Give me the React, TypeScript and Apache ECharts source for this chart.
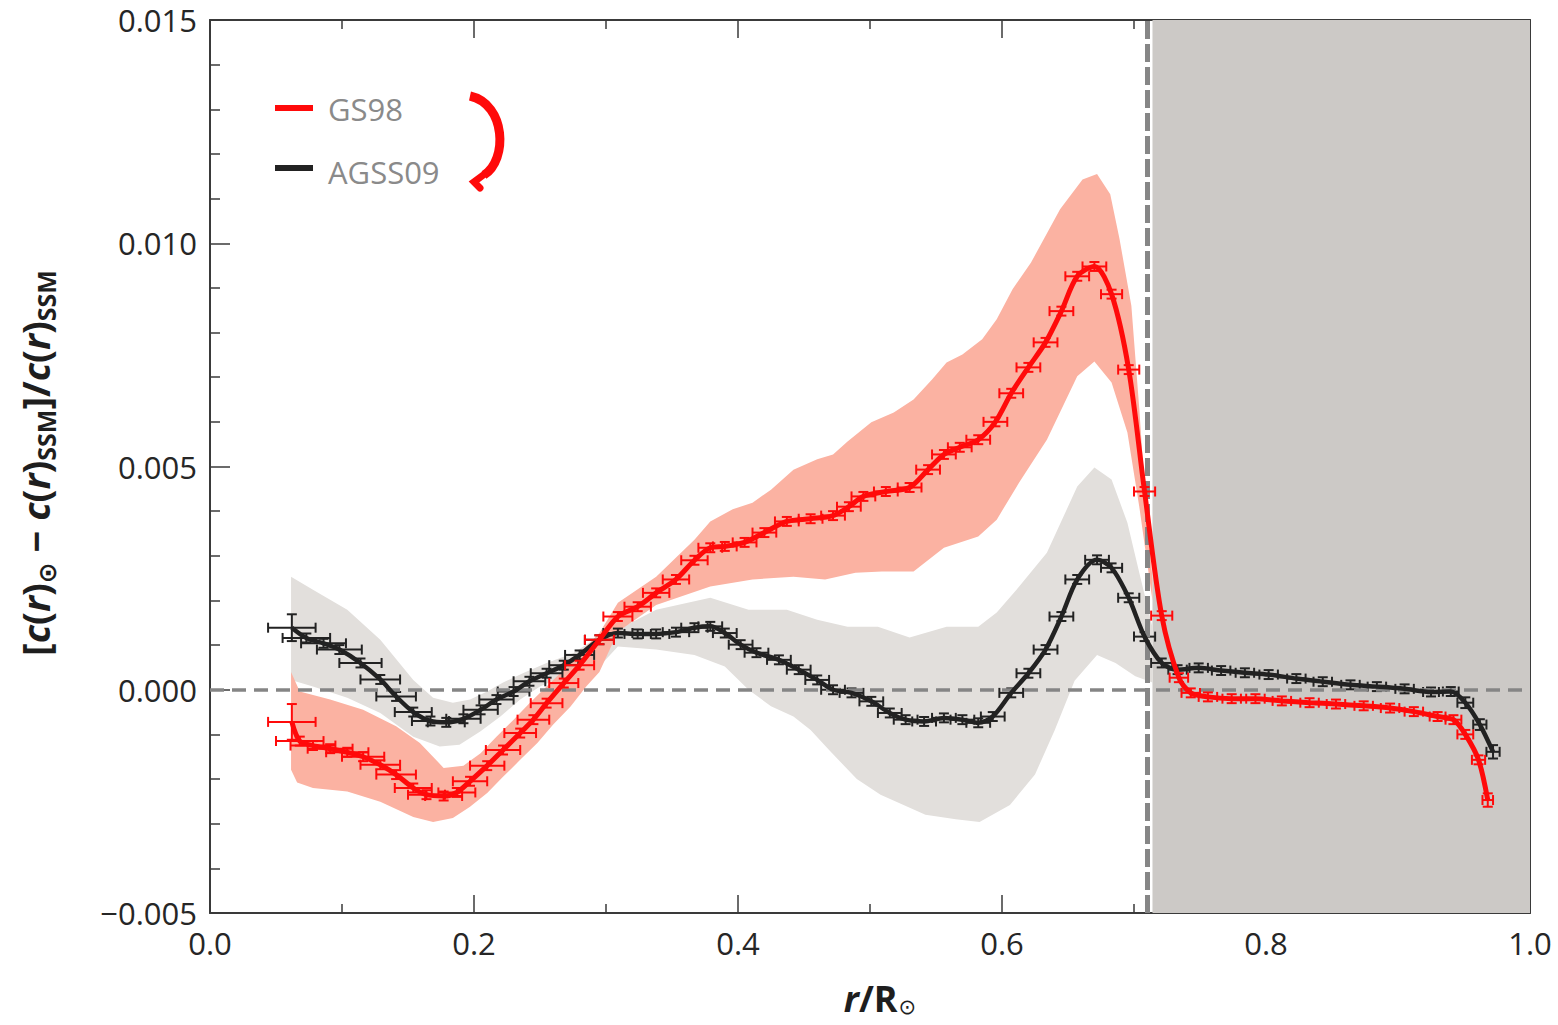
import React, { useEffect, useRef } from "react";
import * as echarts from "echarts";

// ---------- data ----------
const xTickValues = [0, 0.2, 0.4, 0.6, 0.8, 1.0];
const yTickValues = [-0.005, 0, 0.005, 0.01, 0.015];
const convectionBase = 0.714;
const seriesNames = ["GS98", "AGSS09"];

// [r, value, xErr, yErr]
const gs98Points: number[][] = [
  [0.062, -0.00072, 0.018, 0.0004], [0.068, -0.00115, 0.018, 0.0001], [0.078, -0.00125, 0.017, 0.0001],
  [0.091, -0.00132, 0.017, 0.0001], [0.104, -0.0014, 0.016, 0.0001], [0.116, -0.0015, 0.016, 0.0001],
  [0.129, -0.00168, 0.015, 0.0001], [0.141, -0.0019, 0.015, 0.0001], [0.154, -0.0022, 0.014, 0.0001],
  [0.164, -0.00235, 0.014, 0.0001], [0.177, -0.00238, 0.014, 0.0001], [0.187, -0.0023, 0.014, 0.0001],
  [0.197, -0.00205, 0.013, 0.0001], [0.21, -0.0017, 0.013, 0.0001], [0.222, -0.00135, 0.013, 0.0001],
  [0.235, -0.00097, 0.012, 0.0001], [0.245, -0.00067, 0.012, 0.0001], [0.255, -0.0003, 0.012, 0.0001],
  [0.268, 0.00015, 0.011, 0.0001], [0.28, 0.00055, 0.011, 0.0001], [0.295, 0.00112, 0.011, 0.0001],
  [0.309, 0.00164, 0.011, 0.0001], [0.324, 0.00186, 0.01, 0.0001], [0.338, 0.00217, 0.01, 0.0001],
  [0.353, 0.00247, 0.01, 0.0001], [0.367, 0.0029, 0.01, 0.0001], [0.379, 0.00318, 0.009, 0.0001],
  [0.39, 0.00321, 0.009, 0.0001], [0.405, 0.0033, 0.009, 0.0001], [0.42, 0.00352, 0.009, 0.0001],
  [0.437, 0.00377, 0.009, 0.0001], [0.455, 0.00383, 0.009, 0.0001], [0.472, 0.0039, 0.009, 0.0001],
  [0.484, 0.0041, 0.009, 0.0001], [0.495, 0.00433, 0.009, 0.0001], [0.512, 0.00444, 0.009, 0.0001],
  [0.53, 0.00453, 0.009, 0.0001], [0.544, 0.00493, 0.009, 0.0001], [0.556, 0.00527, 0.009, 0.0001],
  [0.568, 0.00543, 0.009, 0.0001], [0.582, 0.0056, 0.009, 0.0001], [0.595, 0.006, 0.009, 0.0001],
  [0.607, 0.00664, 0.009, 0.0001], [0.62, 0.00722, 0.009, 0.0001], [0.633, 0.00778, 0.009, 0.0001],
  [0.645, 0.00848, 0.009, 0.0001], [0.657, 0.00926, 0.009, 0.0001], [0.67, 0.00948, 0.009, 0.0001],
  [0.683, 0.00886, 0.008, 0.0001], [0.696, 0.00717, 0.008, 0.0001], [0.708, 0.00444, 0.008, 0.0001],
  [0.721, 0.00166, 0.008, 0.0001], [0.734, 0.00027, 0.007, 0.0001], [0.743, -0.00007, 0.007, 0.0001],
  [0.756, -0.00016, 0.007, 0.0001], [0.774, -0.0002, 0.007, 0.0001], [0.792, -0.0002, 0.007, 0.0001],
  [0.812, -0.00025, 0.007, 0.0001], [0.833, -0.00029, 0.007, 0.0001], [0.853, -0.00032, 0.007, 0.0001],
  [0.874, -0.00036, 0.007, 0.0001], [0.894, -0.00041, 0.007, 0.0001], [0.912, -0.00049, 0.007, 0.0001],
  [0.93, -0.0006, 0.006, 0.0001], [0.942, -0.00067, 0.006, 0.0001], [0.951, -0.001, 0.006, 0.0001],
  [0.961, -0.00157, 0.005, 0.0001], [0.968, -0.00247, 0.004, 0.00015],
];

const agss09Points: number[][] = [
  [0.062, 0.00139, 0.018, 0.0003], [0.073, 0.00116, 0.018, 0.0001], [0.086, 0.00104, 0.017, 0.0001],
  [0.098, 0.0009, 0.017, 0.0001], [0.114, 0.0006, 0.016, 0.0001], [0.129, 0.00023, 0.015, 0.0001],
  [0.141, -0.00015, 0.015, 0.0001], [0.154, -0.0005, 0.014, 0.0001], [0.167, -0.0007, 0.014, 0.0001],
  [0.179, -0.00073, 0.014, 0.0001], [0.192, -0.00065, 0.013, 0.0001], [0.205, -0.00045, 0.013, 0.0001],
  [0.217, -0.00022, 0.013, 0.0001], [0.23, -0.00004, 0.012, 0.0001], [0.242, 0.00019, 0.012, 0.0001],
  [0.255, 0.00037, 0.012, 0.0001], [0.268, 0.00055, 0.011, 0.0001], [0.28, 0.00078, 0.011, 0.0001],
  [0.295, 0.00112, 0.011, 0.0001], [0.309, 0.00127, 0.011, 0.0001], [0.324, 0.00125, 0.01, 0.0001],
  [0.338, 0.00125, 0.01, 0.0001], [0.353, 0.00129, 0.01, 0.0001], [0.367, 0.00139, 0.01, 0.0001],
  [0.379, 0.00142, 0.009, 0.0001], [0.39, 0.00127, 0.009, 0.0001], [0.402, 0.00101, 0.009, 0.0001],
  [0.414, 0.00083, 0.009, 0.0001], [0.431, 0.00067, 0.009, 0.0001], [0.446, 0.00045, 0.009, 0.0001],
  [0.46, 0.00022, 0.009, 0.0001], [0.472, 0.0, 0.009, 0.0001], [0.486, -0.00007, 0.009, 0.0001],
  [0.501, -0.00026, 0.009, 0.0001], [0.515, -0.00052, 0.009, 0.0001], [0.527, -0.00067, 0.009, 0.0001],
  [0.541, -0.00071, 0.009, 0.0001], [0.556, -0.00063, 0.009, 0.0001], [0.57, -0.00067, 0.009, 0.0001],
  [0.582, -0.00074, 0.009, 0.0001], [0.593, -0.0006, 0.009, 0.0001], [0.607, -0.00007, 0.009, 0.0001],
  [0.62, 0.00037, 0.009, 0.0001], [0.633, 0.0009, 0.009, 0.0001], [0.645, 0.00164, 0.009, 0.0001],
  [0.657, 0.00247, 0.009, 0.0001], [0.672, 0.00291, 0.009, 0.0001], [0.683, 0.00273, 0.008, 0.0001],
  [0.696, 0.00206, 0.008, 0.0001], [0.708, 0.00119, 0.008, 0.0001], [0.721, 0.0006, 0.008, 0.0001],
  [0.733, 0.00045, 0.007, 0.0001], [0.749, 0.00049, 0.007, 0.0001], [0.766, 0.00043, 0.007, 0.0001],
  [0.784, 0.00038, 0.007, 0.0001], [0.802, 0.00034, 0.007, 0.0001], [0.823, 0.00025, 0.007, 0.0001],
  [0.843, 0.00018, 0.007, 0.0001], [0.864, 0.00011, 0.007, 0.0001], [0.884, 0.00007, 0.007, 0.0001],
  [0.905, 0.00002, 0.007, 0.0001], [0.925, -0.00005, 0.006, 0.0001], [0.94, -0.00004, 0.006, 0.0001],
  [0.951, -0.00029, 0.006, 0.00012], [0.962, -0.00078, 0.005, 0.00012], [0.972, -0.00139, 0.005, 0.00015],
];

const gs98BandUpper: number[][] = [
  [0.0614, 0.0004], [0.068, -0.00004], [0.091, -0.00022], [0.116, -0.00045], [0.141, -0.00082],
  [0.159, -0.00119], [0.177, -0.00175], [0.192, -0.0017], [0.205, -0.00142], [0.217, -0.00105],
  [0.23, -0.00067], [0.242, -0.0003], [0.255, 0.00007], [0.268, 0.00045], [0.28, 0.00082],
  [0.295, 0.00127], [0.309, 0.00195], [0.338, 0.00253], [0.367, 0.00336], [0.379, 0.00377],
  [0.396, 0.00404], [0.411, 0.00419], [0.425, 0.00448], [0.442, 0.00493], [0.46, 0.00516],
  [0.472, 0.00527], [0.483, 0.00556], [0.501, 0.00599], [0.518, 0.00621], [0.533, 0.0065],
  [0.547, 0.00695], [0.558, 0.00733], [0.57, 0.00751], [0.585, 0.00785], [0.596, 0.0083],
  [0.608, 0.00897], [0.622, 0.00957], [0.644, 0.01076], [0.661, 0.01143], [0.672, 0.01155],
  [0.682, 0.0111], [0.689, 0.0101], [0.698, 0.0086], [0.704, 0.0063], [0.709, 0.0041], [0.714, 0.0025],
];
const gs98BandLower: number[][] = [
  [0.0614, -0.00179], [0.066, -0.00208], [0.078, -0.0022], [0.104, -0.00228], [0.129, -0.00251],
  [0.154, -0.00285], [0.169, -0.00296], [0.184, -0.00287], [0.197, -0.00262], [0.21, -0.00231],
  [0.222, -0.00195], [0.235, -0.00157], [0.248, -0.00119], [0.26, -0.00078], [0.273, -0.00038],
  [0.285, 0.00007], [0.295, 0.0004], [0.309, 0.0013], [0.338, 0.0019], [0.379, 0.00231],
  [0.411, 0.00247], [0.442, 0.00253], [0.466, 0.00247], [0.489, 0.00262], [0.509, 0.00265],
  [0.533, 0.00265], [0.556, 0.00318], [0.582, 0.00343], [0.596, 0.00381], [0.613, 0.00464],
  [0.634, 0.0056], [0.657, 0.00702], [0.67, 0.00735], [0.683, 0.00688], [0.695, 0.00576],
  [0.704, 0.0041], [0.714, 0.002],
];
const agss09BandUpper: number[][] = [
  [0.0614, 0.00253], [0.078, 0.00224], [0.104, 0.00179], [0.129, 0.00112], [0.154, 0.00022],
  [0.169, -0.00018], [0.184, -0.00029], [0.197, -0.00022], [0.21, -0.00004], [0.222, 0.00016],
  [0.237, 0.00037], [0.255, 0.0006], [0.275, 0.00082], [0.295, 0.0012], [0.309, 0.00135],
  [0.338, 0.00179], [0.379, 0.00206], [0.408, 0.00179], [0.437, 0.00179], [0.46, 0.00157],
  [0.483, 0.00141], [0.506, 0.00141], [0.53, 0.00117], [0.558, 0.00141], [0.582, 0.00141],
  [0.596, 0.00173], [0.613, 0.00231], [0.634, 0.00307], [0.657, 0.00455], [0.67, 0.00498],
  [0.683, 0.00471], [0.695, 0.00374], [0.704, 0.00262], [0.714, 0.0014],
];
const agss09BandLower: number[][] = [
  [0.0614, 0.00022], [0.078, 0.00007], [0.104, -0.00018], [0.129, -0.00052], [0.154, -0.00105],
  [0.174, -0.00127], [0.189, -0.00123], [0.205, -0.00093], [0.22, -0.0006], [0.235, -0.00022],
  [0.25, 0.00007], [0.268, 0.0003], [0.295, 0.00052], [0.309, 0.00097], [0.338, 0.0009],
  [0.367, 0.00078], [0.39, 0.00052], [0.408, 0.0], [0.425, -0.00037], [0.442, -0.0006],
  [0.455, -0.0009], [0.469, -0.00135], [0.49, -0.002], [0.508, -0.00235], [0.542, -0.0028],
  [0.565, -0.0029], [0.583, -0.00296], [0.606, -0.00258], [0.625, -0.0019], [0.64, -0.0009],
  [0.655, 0.0002], [0.672, 0.00078], [0.686, 0.0006], [0.701, 0.0003], [0.714, 0.00016],
];

// ---------- styles ----------
const FONT = "'Open Sans', 'DejaVu Sans', sans-serif";
const RED = "#ff0a0a";
const BLACK = "#222222";
const RED_BAND = "#fbb2a2";
const GRAY_BAND = "#e2dfdc";
const CZ_FILL = "#ccc9c6";
const AXIS = "#3a3a3a";

const bandRender = (upper: number[][], lower: number[][], fill: string) => (params: any, api: any) => {
  if (params.dataIndex !== 0) return null;
  const pts = upper.map((p) => api.coord(p)).concat(lower.slice().reverse().map((p) => api.coord(p)));
  return { type: "polygon", shape: { points: pts }, style: { fill } };
};

const errRender = (color: string) => (params: any, api: any) => {
  const r = api.value(0), v = api.value(1), xe = api.value(2), ye = api.value(3);
  const l = api.coord([r - xe, v]);
  const rt = api.coord([r + xe, v]);
  const t = api.coord([r, v + ye]);
  const b = api.coord([r, v - ye]);
  const cap = 5;
  const style = { stroke: color, lineWidth: 2 };
  const ln = (x1: number, y1: number, x2: number, y2: number) => ({ type: "line", shape: { x1, y1, x2, y2 }, style });
  return {
    type: "group",
    children: [
      ln(l[0], l[1], rt[0], rt[1]),
      ln(l[0], l[1] - cap, l[0], l[1] + cap),
      ln(rt[0], rt[1] - cap, rt[0], rt[1] + cap),
      ln(t[0], t[1], b[0], b[1]),
      ln(t[0] - cap, t[1], t[0] + cap, t[1]),
      ln(b[0] - cap, b[1], b[0] + cap, b[1]),
    ],
  };
};

const fmtY = (v: number) => {
  if (Math.abs(v) < 1e-9) return "0.000";
  return v < 0 ? "\u2212" + Math.abs(v).toFixed(3) : v.toFixed(3);
};

const axisCommonX = (pos: "bottom" | "top", showLabel: boolean) => ({
  type: "value",
  position: pos,
  min: xTickValues[0],
  max: xTickValues[xTickValues.length - 1],
  interval: 0.2,
  axisLine: { show: true, onZero: false, lineStyle: { color: AXIS, width: 2 } },
  axisTick: { show: true, inside: true, length: 18, lineStyle: { color: AXIS, width: 1.5 } },
  minorTick: { show: true, splitNumber: 2, length: 9, lineStyle: { color: AXIS, width: 1.5 } },
  splitLine: { show: false },
  axisLabel: {
    show: showLabel,
    margin: 14,
    fontFamily: FONT,
    fontSize: 31,
    color: "#262626",
    formatter: (v: number) => v.toFixed(1),
  },
});

const axisCommonY = (pos: "left" | "right", showLabel: boolean) => ({
  type: "value",
  position: pos,
  min: yTickValues[0],
  max: yTickValues[yTickValues.length - 1],
  interval: 0.005,
  axisLine: { show: true, onZero: false, lineStyle: { color: AXIS, width: 2 } },
  axisTick: { show: true, inside: true, length: 20, lineStyle: { color: AXIS, width: 1.5 } },
  minorTick: { show: true, splitNumber: 5, length: 10, lineStyle: { color: AXIS, width: 1.5 } },
  splitLine: { show: false },
  axisLabel: {
    show: showLabel,
    margin: 13,
    fontFamily: FONT,
    fontSize: 31,
    color: "#262626",
    formatter: fmtY,
  },
});

export default function App() {
  const ref = useRef<HTMLDivElement>(null);

  useEffect(() => {
    if (!ref.current) return;
    const chart = echarts.init(ref.current, undefined, { renderer: "svg" });

    const option: any = {
      animation: false,
      backgroundColor: "#ffffff",
      grid: { left: 210, right: 28, top: 20, bottom: 112, containLabel: false },
      xAxis: [axisCommonX("bottom", true), axisCommonX("top", false)],
      yAxis: [axisCommonY("left", true), axisCommonY("right", false)],
      series: [
        {
          type: "custom",
          name: "AGSS09 band",
          z: 1,
          silent: true,
          renderItem: bandRender(agss09BandUpper, agss09BandLower, GRAY_BAND),
          data: [[0.4, 0]],
          encode: { x: 0, y: 1 },
          markArea: {
            silent: true,
            itemStyle: { color: CZ_FILL },
            data: [[{ xAxis: convectionBase }, { xAxis: xTickValues[xTickValues.length - 1] }]],
          },
        },
        {
          type: "custom",
          name: "GS98 band",
          z: 2,
          silent: true,
          renderItem: bandRender(gs98BandUpper, gs98BandLower, RED_BAND),
          data: [[0.4, 0]],
          encode: { x: 0, y: 1 },
        },
        {
          type: "line",
          name: "refs",
          z: 3,
          data: [],
          markLine: {
            silent: true,
            symbol: "none",
            label: { show: false },
            data: [
              { yAxis: 0, lineStyle: { color: "#858585", width: 3.5, type: [14, 8] } },
              { xAxis: convectionBase, lineStyle: { color: "#868686", width: 5, type: [18, 5] } },
            ],
          },
        },
        {
          type: "custom",
          name: seriesNames[1] + " errors",
          z: 4,
          renderItem: errRender(BLACK),
          data: agss09Points,
          encode: { x: 0, y: 1 },
        },
        {
          type: "line",
          name: seriesNames[1],
          z: 5,
          smooth: 0.3,
          showSymbol: false,
          lineStyle: { color: BLACK, width: 4.5 },
          data: agss09Points.map((p) => [p[0], p[1]]),
        },
        {
          type: "custom",
          name: seriesNames[0] + " errors",
          z: 6,
          renderItem: errRender(RED),
          data: gs98Points,
          encode: { x: 0, y: 1 },
        },
        {
          type: "line",
          name: seriesNames[0],
          z: 7,
          smooth: 0.3,
          showSymbol: false,
          lineStyle: { color: RED, width: 5 },
          data: gs98Points.map((p) => [p[0], p[1]]),
        },
      ],
      graphic: [
        // legend
        { type: "line", shape: { x1: 275, y1: 108, x2: 313, y2: 108 }, style: { stroke: RED, lineWidth: 6 } },
        { type: "line", shape: { x1: 275, y1: 168, x2: 313, y2: 168 }, style: { stroke: BLACK, lineWidth: 6 } },
        {
          type: "text", x: 328, y: 109,
          style: { text: seriesNames[0], fontFamily: FONT, fontSize: 31, fill: "#8a8a8a", verticalAlign: "middle" },
        },
        {
          type: "text", x: 328, y: 172,
          style: { text: seriesNames[1], fontFamily: FONT, fontSize: 31, fill: "#8a8a8a", verticalAlign: "middle" },
        },
        // red curved arrow
        {
          type: "bezierCurve",
          shape: { x1: 470, y1: 96, cpx1: 506, cpy1: 104, cpx2: 508, cpy2: 160, x2: 484, y2: 175 },
          style: { stroke: RED, lineWidth: 9, fill: null, lineCap: "butt" },
        },
        {
          type: "polyline",
          shape: { points: [[486, 173], [474, 182], [480, 188]] },
          style: { stroke: RED, lineWidth: 7, fill: null, lineJoin: "miter", lineCap: "round" },
        },
        // x axis title
        {
          type: "text", x: 880, y: 998,
          style: {
            text: "{i|r}{b|/R}{s|\u2299}",
            align: "center", verticalAlign: "middle",
            rich: {
              i: { fontFamily: FONT, fontSize: 36, fontWeight: "bold", fontStyle: "italic", fill: "#1e1e1e", lineHeight: 38 },
              b: { fontFamily: FONT, fontSize: 36, fontWeight: "bold", fill: "#1e1e1e", lineHeight: 38 },
              s: { fontFamily: "'DejaVu Sans', sans-serif", fontSize: 21, fill: "#1e1e1e", verticalAlign: "bottom", lineHeight: 21, padding: [0, 0, 0, 1] },
            },
          },
        },
        // y axis title
        {
          type: "text", x: 35, y: 463, rotation: Math.PI / 2,
          style: {
            text: "{b|[}{i|c}{b|(}{i|r}{b|)}{s|\u2299}{b| \u2212 }{i|c}{b|(}{i|r}{b|)}{s|SSM}{b|]/}{i|c}{b|(}{i|r}{b|)}{s|SSM}",
            align: "center", verticalAlign: "middle",
            rich: {
              i: { fontFamily: FONT, fontSize: 38, fontWeight: "bold", fontStyle: "italic", fill: "#1e1e1e", lineHeight: 46 },
              b: { fontFamily: FONT, fontSize: 38, fontWeight: "bold", fill: "#1e1e1e", lineHeight: 46 },
              s: { fontFamily: FONT, fontSize: 25, fontWeight: "bold", fill: "#1e1e1e", verticalAlign: "bottom", lineHeight: 25 },
            },
          },
        },
      ],
    };

    chart.setOption(option);
    return () => chart.dispose();
  }, []);

  return (
    <div
      ref={ref}
      style={{ position: "fixed", left: 0, top: 0, width: 1558, height: 1025, background: "#fff" }}
    />
  );
}
